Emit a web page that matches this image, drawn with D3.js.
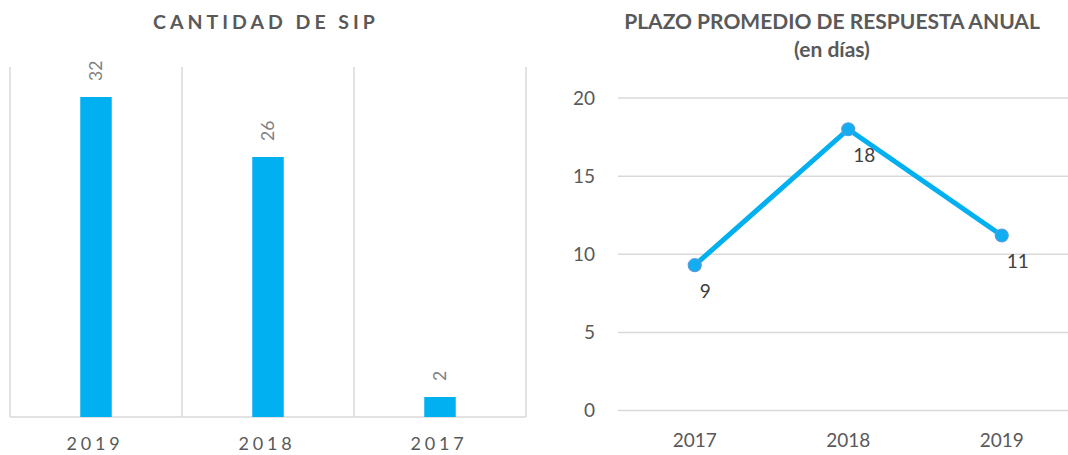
<!DOCTYPE html>
<html><head><meta charset="utf-8">
<script src="https://cdn.jsdelivr.net/npm/d3@7"></script>
<style>html,body{margin:0;padding:0;background:#fff;}svg{display:block;}</style>
</head><body>
<svg id="c" width="1068" height="455"></svg>
<script>
// Left chart data
const barCategories = ["2019", "2018", "2017"];
const barValues = [32, 26, 2];
const barTitle = "CANTIDAD DE SIP";
// Right chart data
const lineCategories = ["2017", "2018", "2019"];
const lineValues = [9.3, 18.0, 11.2];
const lineLabels = ["9", "18", "11"];
const lineTicks = [0, 5, 10, 15, 20];
const lineTitle = ["PLAZO PROMEDIO DE RESPUESTA ANUAL", "(en días)"];

const svg = d3.select("#c");
const blue = "#00B0F0";
const grid = "#d9d9d9";
const txt = "#595959";

// ---------- Left: bar chart ----------
const L = svg.append("g");
const xb = d3.scaleBand().domain(barCategories).range([10, 526]).padding(0);
const yb = d3.scaleLinear().domain([0, 35]).range([417, 67]);

L.append("text").attr("x", 266).attr("y", 29).attr("text-anchor", "middle")
  .style("font-family", "Lato").style("font-weight", "bold").style("font-size", "19.5px")
  .style("letter-spacing", "4px").attr("fill", txt).text(barTitle);

const bounds = barCategories.map(d => xb(d)).concat([xb.range()[1]]);
L.selectAll("line.v").data(bounds).join("line")
  .attr("x1", d => d).attr("x2", d => d).attr("y1", yb(35)).attr("y2", yb(0))
  .attr("stroke", grid).attr("stroke-width", 1.5);
L.append("line").attr("x1", 10).attr("x2", 526).attr("y1", yb(0)).attr("y2", yb(0))
  .attr("stroke", grid).attr("stroke-width", 1.5);

const bw = xb.bandwidth() * 0.183;
L.selectAll("rect.bar").data(barValues).join("rect")
  .attr("x", (d, i) => xb(barCategories[i]) + xb.bandwidth() / 2 - bw / 2)
  .attr("width", bw)
  .attr("y", d => yb(d)).attr("height", d => yb(0) - yb(d))
  .attr("fill", blue);

L.selectAll("text.bl").data(barValues).join("text")
  .attr("transform", (d, i) => `translate(${xb(barCategories[i]) + xb.bandwidth() / 2 + 6},${yb(d) - 16}) rotate(-90)`)
  .attr("text-anchor", "start")
  .style("font-family", "Lato").style("font-size", "17.5px").attr("fill", "#7f7f7f")
  .text(d => d);

L.selectAll("text.xl").data(barCategories).join("text")
  .attr("x", d => xb(d) + xb.bandwidth() / 2 - 1).attr("y", 450).attr("text-anchor", "middle")
  .style("font-family", "Lato").style("font-size", "18px").style("letter-spacing", "3.8px")
  .attr("fill", txt).text(d => d);

// ---------- Right: line chart ----------
const R = svg.append("g");
const xl = d3.scalePoint().domain(lineCategories).range([618, 1078.5]).padding(0.5);
const yl = d3.scaleLinear().domain([0, 20]).range([410.5, 98]);

lineTitle.forEach((t, i) => {
  R.append("text").attr("x", 832).attr("y", 29 + i * 28).attr("text-anchor", "middle")
    .style("font-family", "Lato").style("font-weight", "bold").style("font-size", "21px")
    .attr("fill", txt).text(t);
});

R.selectAll("line.h").data(lineTicks).join("line")
  .attr("x1", 618).attr("x2", 1068).attr("y1", d => yl(d)).attr("y2", d => yl(d))
  .attr("stroke", grid).attr("stroke-width", 1.5);

R.selectAll("text.yt").data(lineTicks).join("text")
  .attr("x", 595).attr("y", d => yl(d)).attr("dy", "0.36em").attr("text-anchor", "end")
  .style("font-family", "Lato").style("font-size", "19px").attr("fill", txt).text(d => d);

R.selectAll("text.xt").data(lineCategories).join("text")
  .attr("x", d => xl(d)).attr("y", 447).attr("text-anchor", "middle")
  .style("font-family", "Lato").style("font-size", "19px").attr("fill", txt).text(d => d);

const line = d3.line().x((d, i) => xl(lineCategories[i])).y(d => yl(d));
R.append("path").datum(lineValues).attr("d", line).attr("fill", "none")
  .attr("stroke", blue).attr("stroke-width", 5).attr("stroke-linejoin", "round");

R.selectAll("circle").data(lineValues).join("circle")
  .attr("cx", (d, i) => xl(lineCategories[i])).attr("cy", d => yl(d)).attr("r", 6.5)
  .attr("fill", "#10AEF0").attr("stroke", "#5A9BE0").attr("stroke-width", 1.2);

R.selectAll("text.pl").data(lineValues).join("text")
  .attr("x", (d, i) => xl(lineCategories[i]) + 5).attr("y", d => yl(d) + 26).attr("dy", "0.36em")
  .attr("text-anchor", "start")
  .style("font-family", "Lato").style("font-size", "19px").attr("fill", "#404040")
  .text((d, i) => lineLabels[i]);
</script>
</body></html>
